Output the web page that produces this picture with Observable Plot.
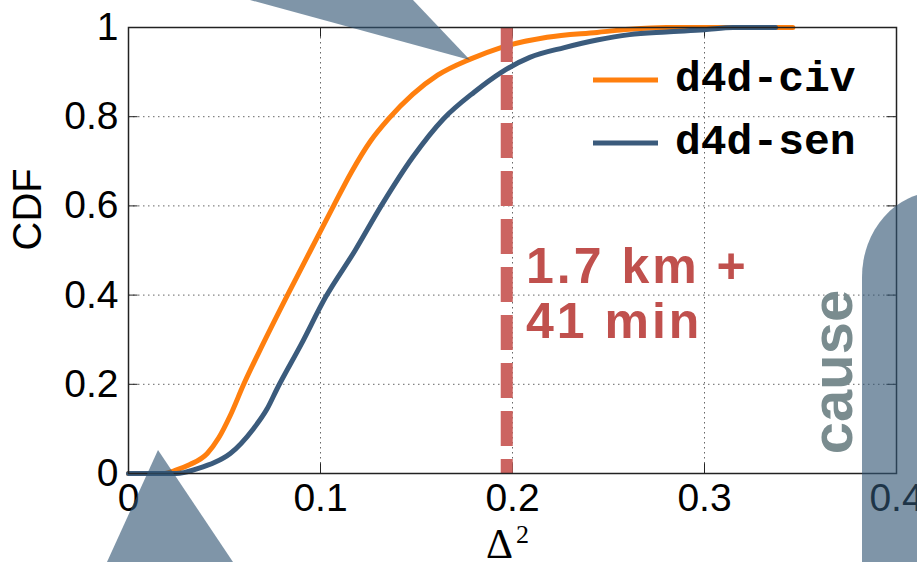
<!DOCTYPE html>
<html>
<head>
<meta charset="utf-8">
<script src="https://cdn.jsdelivr.net/npm/d3@7"></script>
<script src="https://cdn.jsdelivr.net/npm/@observablehq/plot@0.6"></script>
<style>
  html, body { margin: 0; padding: 0; background: #fff; }
  #wrap { position: relative; width: 917px; height: 562px; overflow: hidden; }
  #wrap svg { position: absolute; left: 0; top: 0; }
</style>
</head>
<body>
<div id="wrap"></div>
<script>
// ---- data ----
const xTicks = [0, 0.1, 0.2, 0.3, 0.4];
const yTicks = [0, 0.2, 0.4, 0.6, 0.8, 1];
const seriesNames = ["d4d-civ", "d4d-sen"];
const seriesColors = ["#ff7f0e", "#3b5b7c"];

const civX = [0, 0.018, 0.025, 0.032, 0.041, 0.047, 0.053, 0.060, 0.070, 0.0828, 0.0948, 0.1068, 0.116, 0.126, 0.1354, 0.148, 0.161, 0.178, 0.194, 0.218, 0.244, 0.261, 0.280, 0.346];
const civY = [0, 0, 0.008, 0.02, 0.045, 0.08, 0.13, 0.20, 0.29, 0.40, 0.50, 0.60, 0.675, 0.745, 0.795, 0.850, 0.893, 0.929, 0.955, 0.978, 0.989, 0.996, 1.0, 1.0];

const senX = [0, 0.025, 0.036, 0.045, 0.053, 0.065, 0.0722, 0.0774, 0.090, 0.1026, 0.118, 0.1316, 0.148, 0.164, 0.180, 0.194, 0.209, 0.227, 0.244, 0.261, 0.280, 0.300, 0.315, 0.337];
const senY = [0, 0, 0.011, 0.025, 0.045, 0.10, 0.145, 0.19, 0.29, 0.395, 0.50, 0.60, 0.709, 0.795, 0.855, 0.899, 0.933, 0.955, 0.972, 0.984, 0.990, 0.995, 1.0, 1.0];

const threshold = [0.197];
const annotationLines = ["1.7 km +", "41 min"];
const xLabelMain = "Δ";
const xLabelSup = "2";
const yLabel = "CDF";

// ---- build tables ----
const civ = civX.map((x, i) => ({x, y: civY[i]}));
const sen = senX.map((x, i) => ({x, y: senY[i]}));
const inner = a => a.slice(1, -1);

const chart = Plot.plot({
  width: 917,
  height: 562,
  marginLeft: 128,
  marginRight: 21,
  marginTop: 27,
  marginBottom: 89,
  style: {background: "white", color: "#000", fontFamily: "'Liberation Sans', Arial, sans-serif"},
  x: {domain: [0, 0.4]},
  y: {domain: [0, 1]},
  marks: [
    Plot.gridX(inner(xTicks), {stroke: "#666", strokeOpacity: 1, strokeWidth: 1, strokeDasharray: "1.5,3.5"}),
    Plot.gridY(inner(yTicks), {stroke: "#666", strokeOpacity: 1, strokeWidth: 1, strokeDasharray: "1.5,3.5"}),
    Plot.ruleX(inner(xTicks), {y1: 0, y2: 0.022, stroke: "#222"}),
    Plot.ruleX(inner(xTicks), {y1: 0.978, y2: 1, stroke: "#222"}),
    Plot.ruleY(inner(yTicks), {x1: 0, x2: 0.005, stroke: "#222"}),
    Plot.ruleY(inner(yTicks), {x1: 0.395, x2: 0.4, stroke: "#222"}),
    Plot.line(civ, {x: "x", y: "y", stroke: seriesColors[0], strokeWidth: 5, curve: "monotone-x"}),
    Plot.line(sen, {x: "x", y: "y", stroke: seriesColors[1], strokeWidth: 5, curve: "monotone-x"}),
    Plot.ruleX(threshold, {y1: 1, y2: 0, stroke: "#cc6461", strokeWidth: 12, strokeDasharray: "35,13"}),
    Plot.frame({stroke: "#222", strokeWidth: 1.5}),
    Plot.axisX(xTicks, {tickSize: 0, tickPadding: 10, fontSize: 39, tickFormat: d => String(d), label: null}),
    Plot.axisY(yTicks, {tickSize: 0, tickPadding: 10, fontSize: 39, tickFormat: d => String(d), label: null}),
    Plot.text([yLabel], {frameAnchor: "left", dx: -100, rotate: -90, fontSize: 40, fill: "#000"})
  ]
});
document.getElementById("wrap").appendChild(chart);

// ---- overlay: axis label, legend, annotation, decorations ----
const ov = d3.select("#wrap").append("svg")
  .attr("xmlns", "http://www.w3.org/2000/svg").attr("width", 917).attr("height", 562);

// x axis label (Δ with superscript 2)
const xl = ov.append("text").attr("x", 486).attr("y", 558)
  .attr("font-family", "'Liberation Serif', 'DejaVu Serif', serif").attr("fill", "#000");
xl.append("tspan").attr("font-size", 42).text(xLabelMain);
xl.append("tspan").attr("font-size", 26).attr("dx", 3).attr("dy", -15).text(xLabelSup);

// legend
const legendY = [80, 143];
seriesNames.forEach((name, i) => {
  ov.append("line").attr("x1", 593).attr("x2", 658).attr("y1", legendY[i]).attr("y2", legendY[i])
    .attr("stroke", seriesColors[i]).attr("stroke-width", 5);
  ov.append("text").attr("x", 675).attr("y", legendY[i] + 11)
    .attr("font-family", "'Liberation Mono', 'Courier New', monospace")
    .attr("font-weight", "bold").attr("font-size", 43).attr("fill", "#000")
    .text(name);
});

// annotation
annotationLines.forEach((t, i) => {
  ov.append("text").attr("x", 526).attr("y", 283 + i * 55)
    .attr("font-family", "'Liberation Sans', Arial, sans-serif")
    .attr("font-weight", "bold").attr("font-size", 50).attr("letter-spacing", 3).attr("fill", "#c0504d")
    .text(t);
});

// decorations
const deco = {fill: "#305473", opacity: 0.62};
ov.append("path").attr("d", "M250,0 L413,0 L470,60 Z").attr("fill", deco.fill).attr("fill-opacity", deco.opacity);
ov.append("path").attr("d", "M158,450 L107,562 L233,562 Z").attr("fill", deco.fill).attr("fill-opacity", deco.opacity);
ov.append("path").attr("d", "M862,570 V277 A75,85 0 0 1 937,192 H960 V570 Z").attr("fill", deco.fill).attr("fill-opacity", deco.opacity);
ov.append("text").attr("transform", "translate(852,372) rotate(-90)")
  .attr("text-anchor", "middle")
  .attr("font-family", "'Liberation Sans', Arial, sans-serif")
  .attr("font-weight", "bold").attr("font-size", 58).attr("fill", "#7a8c8f")
  .text("cause");
</script>
</body>
</html>
